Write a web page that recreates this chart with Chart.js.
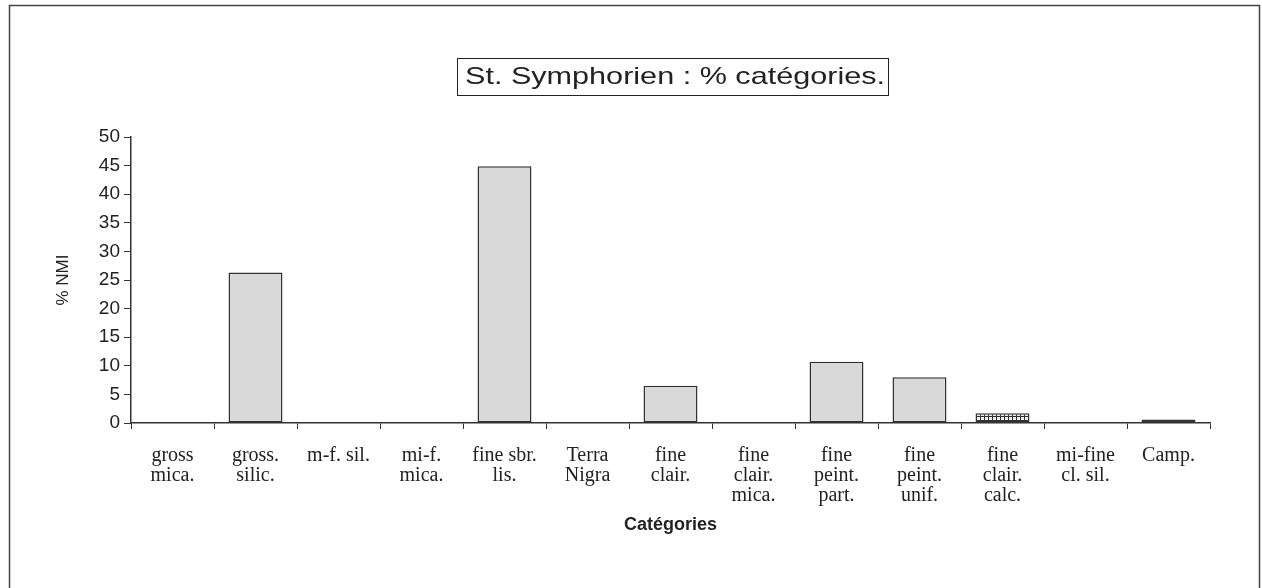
<!DOCTYPE html>
<html>
<head>
<meta charset="utf-8">
<script src="https://cdn.jsdelivr.net/npm/chart.js@4.4.1/dist/chart.umd.min.js"></script>
<style>
  html, body { margin: 0; padding: 0; background: #fff; }
  #wrap { width: 1262px; height: 588px; }
</style>
</head>
<body>
<div id="wrap"><canvas id="stChart" width="1262" height="588"></canvas></div>
<script>
const categories = [
  ["gross", "mica."],
  ["gross.", "silic."],
  ["m-f. sil."],
  ["mi-f.", "mica."],
  ["fine sbr.", "lis."],
  ["Terra", "Nigra"],
  ["fine", "clair."],
  ["fine", "clair.", "mica."],
  ["fine", "peint.", "part."],
  ["fine", "peint.", "unif."],
  ["fine", "clair.", "calc."],
  ["mi-fine", "cl. sil."],
  ["Camp."]
];
const pctNMI = [0, 26.3, 0, 0, 44.9, 0, 6.5, 0, 10.7, 8.0, 1.7, 0, 0.6];
const hatched = [false, false, false, false, false, false, false, false, false, false, true, false, true];
const yTicks = [0, 5, 10, 15, 20, 25, 30, 35, 40, 45, 50];
const chartTitle = "St. Symphorien : % catégories.";

const ctx = document.getElementById("stChart").getContext("2d");

// grid pattern for the two chequered bars
const pc = document.createElement("canvas");
pc.width = 4; pc.height = 4;
const px = pc.getContext("2d");
px.fillStyle = "#eee";
px.fillRect(0, 0, 4, 4);
px.fillStyle = "#333";
px.fillRect(0, 0, 4, 1);
px.fillRect(0, 0, 1, 4);
const gridPattern = ctx.createPattern(pc, "repeat");

const fills = hatched.map(h => (h ? gridPattern : "#d9d9d9"));

// outer frame + boxed title (stretched a little like the scanned original)
const framePlugin = {
  id: "frame",
  afterDraw(chart) {
    const c = chart.ctx;
    c.save();
    c.strokeStyle = "#444";
    c.lineWidth = 1.5;
    c.beginPath();
    c.moveTo(9.5, 600);
    c.lineTo(9.5, 5.5);
    c.lineTo(1259.5, 5.5);
    c.lineTo(1259.5, 600);
    c.stroke();

    c.strokeStyle = "#222";
    c.lineWidth = 1;
    c.strokeRect(457.5, 58.5, 431, 37);

    c.font = "24px 'Liberation Sans', Arial, sans-serif";
    c.fillStyle = "#222";
    c.textBaseline = "middle";
    c.textAlign = "left";
    const w = c.measureText(chartTitle).width;
    const sx = 420 / w;
    c.translate(465, 77);
    c.scale(sx, 1);
    c.fillText(chartTitle, 0, 0);
    c.restore();
  }
};

new Chart(ctx, {
  type: "bar",
  data: {
    labels: categories,
    datasets: [{
      data: pctNMI,
      backgroundColor: fills,
      borderColor: "#333",
      borderWidth: 1.5,
      borderSkipped: false,
      categoryPercentage: 1,
      barPercentage: 0.65
    }]
  },
  options: {
    responsive: false,
    animation: false,
    layout: { padding: { left: 53, right: 52, top: 137, bottom: 50 } },
    plugins: {
      legend: { display: false },
      tooltip: { enabled: false },
      title: { display: false }
    },
    scales: {
      x: {
        afterFit: s => { s.height = 115; },
        grid: { drawOnChartArea: false, color: "#333", tickLength: 6, offset: true },
        border: { color: "#333", width: 1.5 },
        ticks: {
          color: "#222",
          padding: 17,
          maxRotation: 0,
          autoSkip: false,
          font: { family: "'Liberation Serif', 'Times New Roman', serif", size: 20, lineHeight: 1.0 }
        },
        title: {
          display: true,
          text: "Catégories",
          color: "#222",
          font: { family: "'Liberation Sans', Arial, sans-serif", size: 18, weight: "bold" },
          padding: { top: 4, bottom: 2 }
        }
      },
      y: {
        min: 0,
        max: 50,
        afterFit: s => { s.width = 78; },
        afterBuildTicks: s => { s.ticks = yTicks.map(v => ({ value: v })); },
        grid: { drawOnChartArea: false, color: "#333", tickLength: 7 },
        border: { color: "#333", width: 1.5 },
        ticks: {
          color: "#222",
          padding: 4,
          font: { family: "'Liberation Sans', Arial, sans-serif", size: 19 }
        },
        title: {
          display: true,
          text: "% NMI",
          color: "#222",
          font: { family: "'Liberation Sans', Arial, sans-serif", size: 17 },
          padding: { top: 0, bottom: 0 }
        }
      }
    }
  },
  plugins: [framePlugin]
});
</script>
</body>
</html>
